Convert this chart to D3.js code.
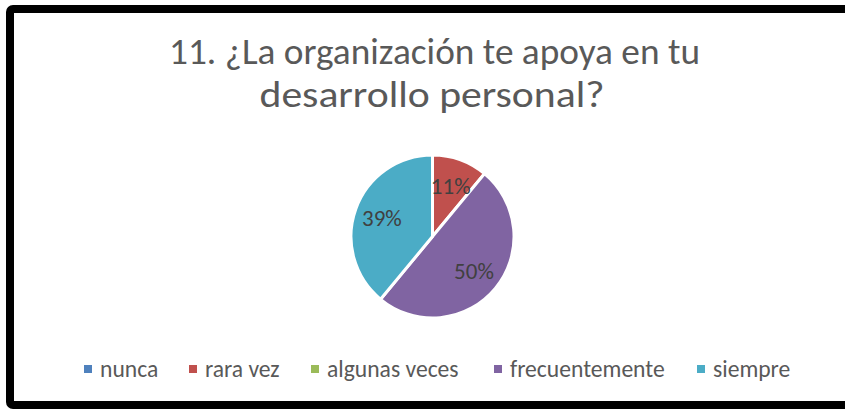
<!DOCTYPE html>
<html>
<head>
<meta charset="utf-8">
<script src="https://cdn.jsdelivr.net/npm/d3@7"></script>
<style>
  html, body { margin: 0; padding: 0; background: #fff; }
  svg { display: block; }
</style>
</head>
<body>
<script>
const categories = ["nunca", "rara vez", "algunas veces", "frecuentemente", "siempre"];
const values = [0, 11, 0, 50, 39];
const colors = ["#4F81BD", "#C0504D", "#9BBB59", "#8064A2", "#4BACC6"];
const titleLines = ["11. ¿La organización te apoya en tu", "desarrollo personal?"];

const W = 845, H = 409;
const font = "Carlito, Calibri, 'Open Sans', 'Noto Sans', sans-serif";
const svg = d3.select("body").append("svg").attr("width", W).attr("height", H);

svg.append("rect").attr("width", W).attr("height", H).attr("fill", "#fff");

// frame
svg.append("rect")
  .attr("x", 10).attr("y", 9).attr("width", W + 20).attr("height", 396)
  .attr("rx", 3)
  .attr("fill", "none").attr("stroke", "#000").attr("stroke-width", 8);

// title
const titleX = [434.5, 432];
const titleLen = [531, 345];
svg.selectAll("text.title").data(titleLines).join("text")
  .attr("class", "title")
  .attr("x", (d, i) => titleX[i]).attr("y", (d, i) => 64 + i * 43)
  .attr("text-anchor", "middle")
  .attr("font-family", font).attr("font-size", 37)
  .attr("fill", "#595959")
  .attr("textLength", (d, i) => titleLen[i])
  .attr("lengthAdjust", "spacingAndGlyphs")
  .text(d => d);

// pie
const cx = 432.5, cy = 236.5, R = 81.5;
const data = categories.map((c, i) => ({ cat: c, value: values[i], color: colors[i] }));
const pie = d3.pie().value(d => d.value).sort(null);
const arcs = pie(data);
const arc = d3.arc().innerRadius(0).outerRadius(R);
const labelArc = d3.arc().innerRadius(R * 0.66).outerRadius(R * 0.66);

const g = svg.append("g").attr("transform", `translate(${cx},${cy})`);
g.selectAll("path").data(arcs.filter(a => a.data.value > 0)).join("path")
  .attr("d", arc)
  .attr("fill", d => d.data.color)
  .attr("stroke", "#fff").attr("stroke-width", 3).attr("stroke-linejoin", "round");

const total = d3.sum(values);
g.selectAll("text").data(arcs.filter(a => a.data.value > 0)).join("text")
  .attr("transform", d => `translate(${labelArc.centroid(d)})`)
  .attr("text-anchor", "middle").attr("dy", "0.35em")
  .attr("font-family", font).attr("font-size", 23)
  .attr("fill", "#404040")
  .text(d => Math.round(d.data.value / total * 100) + "%");

// legend
const legendX = [84, 189, 311, 494, 697];
const lg = svg.append("g");
const items = lg.selectAll("g").data(data).join("g")
  .attr("transform", (d, i) => `translate(${legendX[i]},377)`);
items.append("rect").attr("x", 0).attr("y", -12).attr("width", 8).attr("height", 8)
  .attr("fill", d => d.color);
items.append("text").attr("x", 16).attr("y", 0)
  .attr("font-family", font).attr("font-size", 23.6).attr("fill", "#595959")
  .text(d => d.cat);
</script>
</body>
</html>
